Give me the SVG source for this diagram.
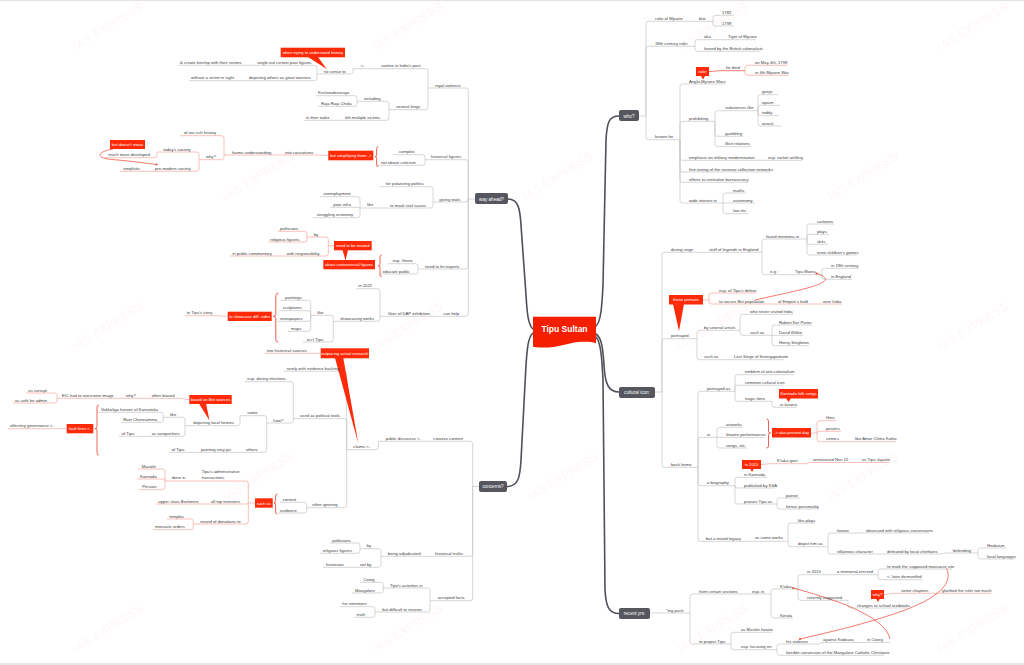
<svg xmlns="http://www.w3.org/2000/svg" width="1024" height="665" viewBox="0 0 1024 665">
<style>
.t{font-family:"Liberation Sans",Arial,sans-serif;font-size:4.2px;fill:#3c3c3c}
.w{font-family:"Liberation Sans",Arial,sans-serif;font-size:4.1px;fill:#fff;text-anchor:middle}
.d{font-family:"Liberation Sans",Arial,sans-serif;font-size:4.6px;fill:#fff;text-anchor:middle}
.wm{font-family:"Liberation Sans",Arial,sans-serif;font-size:12px;font-weight:bold;fill:#e03020;fill-opacity:0.055;text-anchor:middle}
.c{fill:none;stroke:#c4c4c4;stroke-width:0.7}
.p{fill:none;stroke:#f7a69d;stroke-width:0.7}
.r{fill:none;stroke:#f0402e;stroke-width:0.7}
.m{fill:none;stroke:#4f5059;stroke-width:1.6;stroke-linecap:round}
.b{fill:none;stroke:#f03a25;stroke-width:0.8}
.co{fill:#fe2a08}
.dk{fill:#55565e}
.dot{fill:#f0402e}
</style>
<rect x="0" y="0" width="1024" height="665" fill="#fff"/>
<rect x="0" y="0" width="1024" height="1" fill="#e2e2e2"/>
<rect x="0" y="663" width="1024" height="2" fill="#e6e6e6"/>
<g id="watermarks">
<text class="wm" transform="translate(110,30) rotate(-32)">IAS EXPRESS</text>
<text class="wm" transform="translate(410,30) rotate(-32)">IAS EXPRESS</text>
<text class="wm" transform="translate(715,30) rotate(-32)">IAS EXPRESS</text>
<text class="wm" transform="translate(975,30) rotate(-32)">IAS EXPRESS</text>
<text class="wm" transform="translate(260,180) rotate(-32)">IAS EXPRESS</text>
<text class="wm" transform="translate(560,180) rotate(-32)">IAS EXPRESS</text>
<text class="wm" transform="translate(865,180) rotate(-32)">IAS EXPRESS</text>
<text class="wm" transform="translate(110,330) rotate(-32)">IAS EXPRESS</text>
<text class="wm" transform="translate(410,330) rotate(-32)">IAS EXPRESS</text>
<text class="wm" transform="translate(715,330) rotate(-32)">IAS EXPRESS</text>
<text class="wm" transform="translate(975,330) rotate(-32)">IAS EXPRESS</text>
<text class="wm" transform="translate(260,480) rotate(-32)">IAS EXPRESS</text>
<text class="wm" transform="translate(565,480) rotate(-32)">IAS EXPRESS</text>
<text class="wm" transform="translate(865,480) rotate(-32)">IAS EXPRESS</text>
<text class="wm" transform="translate(110,632) rotate(-32)">IAS EXPRESS</text>
<text class="wm" transform="translate(410,632) rotate(-32)">IAS EXPRESS</text>
<text class="wm" transform="translate(715,632) rotate(-32)">IAS EXPRESS</text>
<text class="wm" transform="translate(975,632) rotate(-32)">IAS EXPRESS</text>
</g>
<g id="connectors">
<path class="m" d="M 533,329 C 528,325 527,312 526,295 L 521,225 C 520,208 518,199 508,199"/>
<path class="m" d="M 533,333 C 528,337 527,350 526,365 L 521,460 C 520,478 518,486.5 507,486.5"/>
<path class="m" d="M 596,326 C 601,322 602,305 603,285 L 606,140 C 607,122 609,116 619,116"/>
<path class="m" d="M 596,334 C 602,338 603,350 604,365 C 605,385 609,392 619,392"/>
<path class="m" d="M 596,337 C 601,342 602,360 603,380 L 605,590 C 606,607 609,613.5 619,613.5"/>
<path class="c" d="M 639,116 H 646"/>
<path class="c" d="M 646,116 V 23.8 Q 646,21.3 648.5,21.3 H 697"/>
<path class="c" d="M 697,21.3 H 713"/>
<path class="c" d="M 713,21.3 V 17.8 Q 713,15.3 715.5,15.3 H 734"/>
<path class="c" d="M 713,21.3 V 24 Q 713,26 715,26 H 734"/>
<path class="c" d="M 646,116 V 48.8 Q 646,46.3 648.5,46.3 H 695"/>
<path class="c" d="M 695,46.3 V 42.2 Q 695,39.7 697.5,39.7 H 724"/>
<path class="c" d="M 724,39.7 H 756"/>
<path class="c" d="M 695,46.3 V 48.8 Q 695,51.3 697.5,51.3 H 761"/>
<path class="c" d="M 646,116 V 137.2 Q 646,139.7 648.5,139.7 H 680"/>
<path class="c" d="M 680,139.7 V 86.5 Q 680,84 682.5,84 H 725"/>
<path class="c" d="M 680,139.7 V 123.8 Q 680,121.3 682.5,121.3 H 715"/>
<path class="c" d="M 715,121.3 V 113.2 Q 715,110.7 717.5,110.7 H 758"/>
<path class="c" d="M 758,110.7 V 97.2 Q 758,94.7 760.5,94.7 H 778"/>
<path class="c" d="M 758,110.7 V 107.8 Q 758,105.3 760.5,105.3 H 780"/>
<path class="c" d="M 758,110.7 V 113.2 Q 758,115.7 760.5,115.7 H 779"/>
<path class="c" d="M 758,110.7 V 123.5 Q 758,126 760.5,126 H 781"/>
<path class="c" d="M 715,121.3 V 133.8 Q 715,136.3 717.5,136.3 H 743"/>
<path class="c" d="M 715,121.3 V 144.2 Q 715,146.7 717.5,146.7 H 751"/>
<path class="c" d="M 680,139.7 V 157.8 Q 680,160.3 682.5,160.3 H 764"/>
<path class="c" d="M 764,160.3 H 802"/>
<path class="c" d="M 680,139.7 V 169.5 Q 680,172 682.5,172 H 771"/>
<path class="c" d="M 680,139.7 V 179.8 Q 680,182.3 682.5,182.3 H 748"/>
<path class="c" d="M 680,139.7 V 200.5 Q 680,203 682.5,203 H 723"/>
<path class="c" d="M 723,203 V 195.5 Q 723,193 725.5,193 H 746"/>
<path class="c" d="M 723,203 H 755"/>
<path class="c" d="M 723,203 V 211.2 Q 723,213.7 725.5,213.7 H 748"/>
<path class="r" d="M 709,71.5 C 715,71.5 716,70.7 721,70.7 H 745"/>
<path class="p" d="M 745,70.7 V 67.8 Q 745,65.3 747.5,65.3 H 788"/>
<path class="p" d="M 745,70.7 V 72.8 Q 745,75.3 747.5,75.3 H 789"/>
<path class="c" d="M 655,392 H 662"/>
<path class="c" d="M 662,392 V 254.8 Q 662,252.3 664.5,252.3 H 706"/>
<path class="c" d="M 706,252.3 H 762"/>
<path class="c" d="M 762,252.3 V 241.5 Q 762,239 764.5,239 H 807"/>
<path class="c" d="M 807,239 V 226.5 Q 807,224 809.5,224 H 834"/>
<path class="c" d="M 807,239 V 236.8 Q 807,234.3 809.5,234.3 H 829"/>
<path class="c" d="M 807,239 V 241.8 Q 807,244.3 809.5,244.3 H 828"/>
<path class="c" d="M 807,239 V 252.5 Q 807,255 809.5,255 H 857"/>
<path class="c" d="M 762,252.3 V 272.2 Q 762,274.7 764.5,274.7 H 792"/>
<path class="c" d="M 792,274.7 H 822"/>
<path class="c" d="M 822,274.7 V 270.8 Q 822,268.3 824.5,268.3 H 859"/>
<path class="c" d="M 822,274.7 V 276.8 Q 822,279.3 824.5,279.3 H 852"/>
<path class="p" d="M 703,300 H 709"/>
<path class="p" d="M 709,300 V 295.5 Q 709,293 711.5,293 H 756"/>
<path class="p" d="M 709,300 V 301.5 Q 709,304 711.5,304 H 774"/>
<path class="p" d="M 774,304 H 842"/>
<path class="r" d="M 755,300 C 790,292 830,285 825,278 C 822,275 819,274 816.5,273.5"/>
<circle class="dot" cx="816.5" cy="273.5" r="1"/>
<path class="c" d="M 662,392 V 341.2 Q 662,338.7 664.5,338.7 H 697"/>
<path class="c" d="M 697,338.7 V 332.8 Q 697,330.3 699.5,330.3 H 740"/>
<path class="c" d="M 740,330.3 V 316.8 Q 740,314.3 742.5,314.3 H 793"/>
<path class="c" d="M 740,330.3 V 332.8 Q 740,335.3 742.5,335.3 H 772"/>
<path class="c" d="M 772,335.3 V 327.5 Q 772,325 774.5,325 H 812"/>
<path class="c" d="M 772,335.3 H 803"/>
<path class="c" d="M 772,335.3 V 343.2 Q 772,345.7 774.5,345.7 H 809"/>
<path class="c" d="M 697,338.7 V 357.2 Q 697,359.7 699.5,359.7 H 731"/>
<path class="c" d="M 731,359.7 H 784"/>
<path class="c" d="M 662,392 V 464.8 Q 662,467.3 664.5,467.3 H 698"/>
<path class="c" d="M 698,467.3 V 393.8 Q 698,391.3 700.5,391.3 H 735"/>
<path class="c" d="M 735,391.3 V 377.2 Q 735,374.7 737.5,374.7 H 794"/>
<path class="c" d="M 735,391.3 V 387.8 Q 735,385.3 737.5,385.3 H 783"/>
<path class="c" d="M 735,391.3 V 398.8 Q 735,401.3 737.5,401.3 H 772"/>
<path class="c" d="M 772,401.3 V 404.8 Q 772,407.3 774.5,407.3 H 797"/>
<path class="c" d="M 698,467.3 V 439.8 Q 698,437.3 700.5,437.3 H 717"/>
<path class="c" d="M 717,437.3 V 429.8 Q 717,427.3 719.5,427.3 H 743"/>
<path class="c" d="M 717,437.3 H 765"/>
<path class="c" d="M 717,437.3 V 445.5 Q 717,448 719.5,448 H 747"/>
<path class="p" d="M 811,433 H 817"/>
<path class="p" d="M 817,433 V 423.2 Q 817,420.7 819.5,420.7 H 836"/>
<path class="p" d="M 817,433 Q 817,431.3 819,431.3 H 841"/>
<path class="p" d="M 817,433 V 439.2 Q 817,441.7 819.5,441.7 H 852"/>
<path class="p" d="M 852,441.7 H 896"/>
<path class="p" d="M 761,464.5 C 766,464.5 767,463.7 771,463.7 H 806"/>
<path class="p" d="M 806,463.7 C 808,463.7 808,462.5 810,462.5 H 855"/>
<path class="p" d="M 855,462.5 H 889"/>
<path class="c" d="M 698,467.3 V 483.2 Q 698,485.7 700.5,485.7 H 735"/>
<path class="c" d="M 735,485.7 V 479.8 Q 735,477.3 737.5,477.3 H 767"/>
<path class="c" d="M 735,485.7 Q 735,488 737.3,488 H 775"/>
<path class="c" d="M 735,485.7 V 501.5 Q 735,504 737.5,504 H 777"/>
<path class="c" d="M 777,504 V 500.5 Q 777,498 779.5,498 H 800"/>
<path class="c" d="M 777,504 V 506.5 Q 777,509 779.5,509 H 818"/>
<path class="c" d="M 698,467.3 V 538.8 Q 698,541.3 700.5,541.3 H 752"/>
<path class="c" d="M 752,541.3 H 788"/>
<path class="c" d="M 788,541.3 V 525.5 Q 788,523 790.5,523 H 815"/>
<path class="c" d="M 788,541.3 V 544.2 Q 788,546.7 790.5,546.7 H 828"/>
<path class="c" d="M 828,546.7 V 535.5 Q 828,533 830.5,533 H 858"/>
<path class="c" d="M 858,533 H 929"/>
<path class="c" d="M 828,546.7 V 551.5 Q 828,554 830.5,554 H 882"/>
<path class="c" d="M 882,554 H 940"/>
<path class="c" d="M 940,554 C 943,554 944,553 947,553 H 978"/>
<path class="c" d="M 978,553 V 550.5 Q 978,548 980.5,548 H 1006"/>
<path class="c" d="M 978,553 V 556.5 Q 978,559 980.5,559 H 1015"/>
<path class="c" d="M 650,613 H 690"/>
<path class="c" d="M 690,613 V 596.5 Q 690,594 692.5,594 H 749"/>
<path class="c" d="M 749,594 H 771"/>
<path class="c" d="M 771,594 V 591.5 Q 771,589 773.5,589 H 798"/>
<path class="c" d="M 798,589 V 577.2 Q 798,574.7 800.5,574.7 H 833"/>
<path class="c" d="M 833,574.7 H 878"/>
<path class="c" d="M 878,574.7 V 571.5 Q 878,569 880.5,569 H 952"/>
<path class="c" d="M 878,574.7 V 577.2 Q 878,579.7 880.5,579.7 H 922"/>
<path class="c" d="M 798,589 V 597.8 Q 798,600.3 800.5,600.3 H 848"/>
<path class="c" d="M 848,600.3 V 605.5 Q 848,608 850.5,608 H 907"/>
<path class="p" d="M 884,594.5 C 889,594.5 890,593.3 895,593.3 H 940"/>
<path class="p" d="M 940,593.3 H 991"/>
<path class="c" d="M 771,594 V 615.5 Q 771,618 773.5,618 H 793"/>
<path class="c" d="M 690,613 V 641.5 Q 690,644 692.5,644 H 731"/>
<path class="c" d="M 731,644 V 634.8 Q 731,632.3 733.5,632.3 H 772"/>
<path class="c" d="M 731,644 V 647.2 Q 731,649.7 733.5,649.7 H 777"/>
<path class="c" d="M 777,649.7 V 646.5 Q 777,644 779.5,644 H 818"/>
<path class="c" d="M 818,644 C 820,644 820,642.5 822,642.5 H 858"/>
<path class="c" d="M 858,642.5 H 890"/>
<path class="c" d="M 777,649.7 V 652.8 Q 777,655.3 779.5,655.3 H 884"/>
<path class="r" d="M 793,588 C 830,598 885,615 890,639"/>
<circle class="dot" cx="793" cy="588" r="1"/>
<path class="r" d="M 946.5,568.5 C 952,580 945,595 905,610 C 870,623 830,632 800,639"/>
<circle class="dot" cx="800" cy="639" r="1"/>
<path class="c" d="M 475,199 H 468.3"/>
<path class="c" d="M 468.3,199 V 90.5 Q 468.3,88 465.8,88 H 428"/>
<path class="c" d="M 428,88 V 71.2 Q 428,68.7 425.5,68.7 H 376"/>
<path class="c" d="M 376,68.7 H 353"/>
<path class="c" d="M 353,68.7 V 71.5 Q 353,74 350.5,74 H 317"/>
<path class="c" d="M 317,74 V 67.8 Q 317,65.3 314.5,65.3 H 250"/>
<path class="c" d="M 250,65.3 H 178"/>
<path class="c" d="M 317,74 V 78.2 Q 317,80.7 314.5,80.7 H 246"/>
<path class="c" d="M 246,80.7 H 189"/>
<path class="c" d="M 428,88 V 107.2 Q 428,109.7 425.5,109.7 H 389"/>
<path class="c" d="M 389,109.7 V 103.8 Q 389,101.3 386.5,101.3 H 357"/>
<path class="c" d="M 357,101.3 V 98.2 Q 357,95.7 354.5,95.7 H 316"/>
<path class="c" d="M 357,101.3 V 103.8 Q 357,106.3 354.5,106.3 H 318"/>
<path class="c" d="M 389,109.7 V 117.8 Q 389,120.3 386.5,120.3 H 339"/>
<path class="c" d="M 339,120.3 H 304"/>
<path class="c" d="M 468.3,199 V 162.2 Q 468.3,159.7 465.8,159.7 H 425"/>
<path class="c" d="M 425,159.7 V 157.2 Q 425,154.7 422.5,154.7 H 393"/>
<path class="c" d="M 425,159.7 V 162.8 Q 425,165.3 422.5,165.3 H 377"/>
<path class="p" d="M 328.3,155.5 C 324,155.5 323,155 319,155 H 273"/>
<path class="p" d="M 273,155 H 224"/>
<path class="p" d="M 224,155 V 138.2 Q 224,135.7 221.5,135.7 H 180"/>
<path class="p" d="M 224,155 V 157.2 Q 224,159.7 221.5,159.7 H 199"/>
<path class="p" d="M 199,159.7 V 154.5 Q 199,152 196.5,152 H 157"/>
<path class="p" d="M 157,152 V 155.2 Q 157,157.7 154.5,157.7 H 105"/>
<path class="p" d="M 199,159.7 V 168.8 Q 199,171.3 196.5,171.3 H 151"/>
<path class="p" d="M 151,171.3 H 120"/>
<path class="r" d="M 113,149 C 96,152 96,158 112,159.5 C 130,161 145,163 156.5,164.5"/>
<circle class="dot" cx="156.5" cy="164.5" r="1"/>
<path class="c" d="M 468.3,199 Q 468.3,202 465.3,202 H 433"/>
<path class="c" d="M 433,202 V 189.2 Q 433,186.7 430.5,186.7 H 380"/>
<path class="c" d="M 433,202 V 205.5 Q 433,208 430.5,208 H 378"/>
<path class="c" d="M 378,208 H 360"/>
<path class="c" d="M 360,208 V 199.2 Q 360,196.7 357.5,196.7 H 320"/>
<path class="c" d="M 360,208 L 358,207.3 H 330"/>
<path class="c" d="M 360,208 V 215.2 Q 360,217.7 357.5,217.7 H 313"/>
<path class="c" d="M 468.3,199 V 266.5 Q 468.3,269 465.8,269 H 418"/>
<path class="c" d="M 418,269 V 266.2 Q 418,263.7 415.5,263.7 H 388"/>
<path class="c" d="M 418,269 V 271.5 Q 418,274 415.5,274 H 380"/>
<path class="p" d="M 334,245.7 H 328.3"/>
<path class="p" d="M 328.3,245.7 V 239.5 Q 328.3,237 325.8,237 H 307"/>
<path class="p" d="M 307,237 V 233.8 Q 307,231.3 304.5,231.3 H 278"/>
<path class="p" d="M 307,237 V 239.5 Q 307,242 304.5,242 H 268"/>
<path class="p" d="M 328.3,245.7 V 253.5 Q 328.3,256 325.8,256 H 283"/>
<path class="p" d="M 283,256 H 230"/>
<path class="c" d="M 468.3,199 V 313.8 Q 468.3,316.3 465.8,316.3 H 434"/>
<path class="c" d="M 434,316.3 H 380"/>
<path class="c" d="M 380,316.3 V 291.2 Q 380,288.7 377.5,288.7 H 356"/>
<path class="c" d="M 380,316.3 V 318.8 Q 380,321.3 377.5,321.3 H 333.3"/>
<path class="c" d="M 333.3,321.3 V 317.8 Q 333.3,315.3 330.8,315.3 H 310.7"/>
<path class="c" d="M 310.7,315.3 V 302.8 Q 310.7,300.3 308.2,300.3 H 281"/>
<path class="c" d="M 310.7,315.3 V 313.2 Q 310.7,310.7 308.2,310.7 H 279"/>
<path class="c" d="M 310.7,315.3 V 318.8 Q 310.7,321.3 308.2,321.3 H 277"/>
<path class="c" d="M 310.7,315.3 V 328.8 Q 310.7,331.3 308.2,331.3 H 288"/>
<path class="c" d="M 333.3,321.3 V 339.5 Q 333.3,342 330.8,342 H 303"/>
<path class="p" d="M 227.7,316.3 C 223,316.3 222,315.7 218,315.7 H 185"/>
<path class="c" d="M 479,486.5 H 472.7"/>
<path class="c" d="M 472.7,486.5 V 443.8 Q 472.7,441.3 470.2,441.3 H 412"/>
<path class="c" d="M 412,441.3 H 378.3"/>
<path class="c" d="M 378.3,441.3 V 447.2 Q 378.3,449.7 375.8,449.7 H 346.7"/>
<path class="c" d="M 346.7,449.7 V 373.8 Q 346.7,371.3 344.2,371.3 H 284"/>
<path class="p" d="M 320.7,353.3 H 265"/>
<path class="c" d="M 346.7,449.7 V 421.2 Q 346.7,418.7 344.2,418.7 H 293.3"/>
<path class="c" d="M 293.3,418.7 V 384.2 Q 293.3,381.7 290.8,381.7 H 245"/>
<path class="c" d="M 293.3,418.7 V 420.5 Q 293.3,423 290.8,423 H 266.7"/>
<path class="c" d="M 266.7,423 V 418.2 Q 266.7,415.7 264.2,415.7 H 240"/>
<path class="c" d="M 240,415.7 V 423.2 Q 240,425.7 237.5,425.7 H 185"/>
<path class="c" d="M 185,425.7 V 419.8 Q 185,417.3 182.5,417.3 H 163.3"/>
<path class="c" d="M 163.3,417.3 V 414.8 Q 163.3,412.3 160.8,412.3 H 99"/>
<path class="c" d="M 163.3,417.3 V 419.8 Q 163.3,422.3 160.8,422.3 H 121"/>
<path class="c" d="M 185,425.7 V 433.8 Q 185,436.3 182.5,436.3 H 148"/>
<path class="c" d="M 148,436.3 H 119"/>
<path class="p" d="M 189.3,399.5 C 185,399.5 184,398.3 180,398.3 H 148"/>
<path class="p" d="M 148,398.3 H 118"/>
<path class="p" d="M 118,398.3 H 57"/>
<path class="p" d="M 57,398.3 V 395.5 Q 57,393 54.5,393 H 26"/>
<path class="p" d="M 57,398.3 V 400.5 Q 57,403 54.5,403 H 13"/>
<path class="p" d="M 66.7,428.7 H 8"/>
<path class="c" d="M 266.7,423 V 449.8 Q 266.7,452.3 264.2,452.3 H 238"/>
<path class="c" d="M 238,452.3 H 190"/>
<path class="c" d="M 190,452.3 H 169"/>
<path class="c" d="M 346.7,449.7 V 505.2 Q 346.7,507.7 344.2,507.7 H 306.7"/>
<path class="c" d="M 306.7,507.7 V 504.8 Q 306.7,502.3 304.2,502.3 H 280"/>
<path class="c" d="M 306.7,507.7 V 510.5 Q 306.7,513 304.2,513 H 278"/>
<path class="p" d="M 255,503 H 248.3"/>
<path class="p" d="M 248.3,503 V 483.5 Q 248.3,481 245.8,481 H 197"/>
<path class="p" d="M 197,481 H 165"/>
<path class="p" d="M 165,481 V 471.5 Q 165,469 162.5,469 H 138"/>
<path class="p" d="M 165,481 Q 165,479 163,479 H 137"/>
<path class="p" d="M 165,481 V 487.2 Q 165,489.7 162.5,489.7 H 139"/>
<path class="p" d="M 248.3,503 L 247,504 H 205"/>
<path class="p" d="M 205,504 H 156"/>
<path class="p" d="M 248.3,503 V 521.5 Q 248.3,524 245.8,524 H 193.3"/>
<path class="p" d="M 193.3,524 V 521.5 Q 193.3,519 190.8,519 H 167"/>
<path class="p" d="M 193.3,524 V 527.2 Q 193.3,529.7 190.8,529.7 H 153"/>
<path class="c" d="M 472.7,486.5 V 553.8 Q 472.7,556.3 470.2,556.3 H 425"/>
<path class="c" d="M 425,556.3 H 381"/>
<path class="c" d="M 381,556.3 V 551.2 Q 381,548.7 378.5,548.7 H 360"/>
<path class="c" d="M 360,548.7 V 545.5 Q 360,543 357.5,543 H 330"/>
<path class="c" d="M 360,548.7 V 550.8 Q 360,553.3 357.5,553.3 H 320"/>
<path class="c" d="M 381,556.3 V 564.8 Q 381,567.3 378.5,567.3 H 348"/>
<path class="c" d="M 348,567.3 H 323"/>
<path class="c" d="M 472.7,486.5 V 598.2 Q 472.7,600.7 470.2,600.7 H 430"/>
<path class="c" d="M 430,600.7 V 590.5 Q 430,588 427.5,588 H 383.3"/>
<path class="c" d="M 383.3,588 V 584.8 Q 383.3,582.3 380.8,582.3 H 360"/>
<path class="c" d="M 383.3,588 V 590.5 Q 383.3,593 380.8,593 H 352"/>
<path class="c" d="M 430,600.7 V 609.5 Q 430,612 427.5,612 H 375"/>
<path class="c" d="M 375,612 V 609.2 Q 375,606.7 372.5,606.7 H 340"/>
<path class="c" d="M 375,612 V 614.8 Q 375,617.3 372.5,617.3 H 354"/>
<path class="b" d="M 378.3,146.7 Q 376.6,146.7 376.6,148.7 V 155.2 Q 376.6,156.7 375,156.7 Q 376.6,156.7 376.6,158.2 V 164.7 Q 376.6,166.7 378.3,166.7"/>
<path class="b" d="M 381.7,255 Q 380,255 380,257 V 264.3 Q 380,265.8 378.3,265.8 Q 380,265.8 380,267.3 V 274.7 Q 380,276.7 381.7,276.7"/>
<path class="b" d="M 278.3,293.3 Q 275.8,293.3 275.8,295.8 V 314.3 Q 275.8,316.3 273.3,316.3 Q 275.8,316.3 275.8,318.3 V 339.5 Q 275.8,342 278.3,342"/>
<path class="b" d="M 99,405 Q 97,405 97,407.5 V 426.7 Q 97,428.7 95,428.7 Q 97,428.7 97,430.7 V 452.5 Q 97,455 99,455"/>
<path class="b" d="M 277.3,494 Q 275.6,494 275.6,496 V 501.5 Q 275.6,503 274,503 Q 275.6,503 275.6,504.5 V 512 Q 275.6,514 277.3,514"/>
<path class="b" d="M 766.5,419 Q 768.5,419 768.5,421 V 431.5 Q 768.5,433 770.5,433 Q 768.5,433 768.5,434.5 V 446 Q 768.5,448 766.5,448"/>
</g>
<g id="center">
<path d="M 533,316.7 H 596 V 343.3 C 590,341 580,341.5 573,342.7 C 562,345 552,349.5 533,346.7 Z" fill="#f41e00"/>
<text x="564.5" y="332" font-family="Liberation Sans, Arial, sans-serif" font-size="8.5" font-weight="bold" fill="#fff" text-anchor="middle">Tipu Sultan</text>
</g>
<g id="topic-way-ahead"><rect class="dk" x="475" y="193" width="33" height="11" rx="2"/><text class="d" x="491.5" y="200.6">way ahead?</text></g>
<g id="topic-concerns"><rect class="dk" x="479" y="481" width="28" height="11" rx="2"/><text class="d" x="493" y="488.1">concerns?</text></g>
<g id="topic-who"><rect class="dk" x="619" y="110" width="20" height="11" rx="2"/><text class="d" x="629" y="117.6">who?</text></g>
<g id="topic-cultural"><rect class="dk" x="619" y="387" width="36" height="11" rx="2"/><text class="d" x="637" y="394">cultural icon:</text></g>
<g id="topic-recent"><rect class="dk" x="619" y="608" width="31" height="11" rx="2"/><text class="d" x="634.5" y="615.2">recent yrs:</text></g>
<g id="callouts">
<g id="co-ruler"><rect class="co" x="696" y="67" width="13" height="9"/><polygon class="co" points="701,76 705,76 703,79.5"/><text class="w" x="702.5" y="73">ruler</text></g>
<g id="co-portraits"><polygon class="co" points="673,304 684,304 679,331"/><rect class="co" x="669" y="295" width="34" height="9.5"/><text class="w" x="686" y="301.2">these portraits</text></g>
<g id="co-folk"><polygon class="co" points="786,398 791,398 788.5,402"/><rect class="co" x="779" y="389" width="39" height="9.5"/><text class="w" x="798.5" y="395.2">Kannada folk songs</text></g>
<g id="co-present"><rect class="co" x="772" y="428" width="39" height="9.5"/><text class="w" x="791.5" y="434.2">-&gt; also present day</text></g>
<g id="co-2015"><polygon class="co" points="750,468.5 754,468.5 752,472"/><rect class="co" x="742" y="460" width="19" height="9"/><text class="w" x="751.5" y="466">in 2015</text></g>
<g id="co-why-recent"><polygon class="co" points="876,598.5 880,598.5 878,602"/><rect class="co" x="871" y="590" width="13" height="9"/><text class="w" x="877.5" y="596">why?</text></g>
<g id="co-history"><polygon class="co" points="308,57 318,57 326.7,69"/><rect class="co" x="280.7" y="47.7" width="64.3" height="9.6"/><text class="w" x="312.8" y="54">when trying to understand history</text></g>
<g id="co-simplify"><rect class="co" x="328.3" y="150.7" width="45" height="9.6"/><text class="w" x="350.8" y="157">but simplifying them -&gt;</text></g>
<g id="co-doesnt"><rect class="co" x="110" y="140" width="35" height="9"/><text class="w" x="127.5" y="146">but doesn't mean</text></g>
<g id="co-treated"><polygon class="co" points="342.5,250 348,250 345.5,260.5"/><rect class="co" x="334" y="241" width="37.7" height="9.3"/><text class="w" x="352.8" y="247.1">need to be treated</text></g>
<g id="co-controversial"><rect class="co" x="323.3" y="260" width="51.7" height="9.3"/><text class="w" x="349.1" y="266.1">about controversial figures</text></g>
<g id="co-showcase"><rect class="co" x="227.7" y="311.7" width="44" height="9.3"/><text class="w" x="249.7" y="317.8">to showcase diff. sides</text></g>
<g id="co-outpacing"><polygon class="co" points="335,358 343.3,358 358.3,443.5"/><rect class="co" x="320.7" y="348.3" width="48.3" height="10"/><text class="w" x="344.8" y="354.8">outpacing actual research</text></g>
<g id="co-brit"><polygon class="co" points="199,403.5 206,403.5 209.5,420.5"/><rect class="co" x="189.3" y="395" width="42.4" height="9"/><text class="w" x="210.5" y="401">based on Brit sources</text></g>
<g id="co-fault"><rect class="co" x="66.7" y="424" width="26.6" height="9.3"/><text class="w" x="80" y="430.1">fault lines &lt;-</text></g>
<g id="co-suchas"><rect class="co" x="255" y="498.3" width="17.7" height="9.4"/><text class="w" x="263.8" y="504.5">such as</text></g>
</g>
<g id="nodes-who">
<g id="n-ruler"><text class="t" x="655" y="19.8">ruler of Mysore</text></g>
<g id="n-bw"><text class="t" x="699" y="19.8">b/w</text></g>
<g id="n-1782"><text class="t" x="722" y="13.8">1782</text></g>
<g id="n-1799"><text class="t" x="722" y="24.5">1799</text></g>
<g id="n-c18"><text class="t" x="655" y="44.8">18th century ruler</text></g>
<g id="n-aka"><text class="t" x="704" y="38.2">aka</text></g>
<g id="n-tiger"><text class="t" x="728" y="38.2">Tiger of Mysore</text></g>
<g id="n-feared"><text class="t" x="704" y="49.8">feared by the British colonialists</text></g>
<g id="n-known"><text class="t" x="655" y="138.2">known for</text></g>
<g id="n-amw"><text class="t" x="689" y="82.5">Anglo-Mysore Wars</text></g>
<g id="n-died"><text class="t" x="726" y="69.2">he died</text></g>
<g id="n-may4"><text class="t" x="755" y="63.8">on May 4th, 1799</text></g>
<g id="n-4thwar"><text class="t" x="755" y="73.8">in 4th Mysore War</text></g>
<g id="n-prohib"><text class="t" x="689" y="119.8">prohibiting</text></g>
<g id="n-subs"><text class="t" x="725" y="109.2">substances like</text></g>
<g id="n-ganja"><text class="t" x="762" y="93.2">ganja</text></g>
<g id="n-opium"><text class="t" x="762" y="103.8">opium</text></g>
<g id="n-toddy"><text class="t" x="762" y="114.2">toddy</text></g>
<g id="n-arrack"><text class="t" x="762" y="124.5">arrack</text></g>
<g id="n-gambling"><text class="t" x="725" y="134.8">gambling</text></g>
<g id="n-illicit"><text class="t" x="725" y="145.2">illicit relations</text></g>
<g id="n-emph"><text class="t" x="689" y="158.8">emphasis on military modernization</text></g>
<g id="n-rocket"><text class="t" x="768" y="158.8">esp. rocket artillery</text></g>
<g id="n-fine"><text class="t" x="689" y="170.5">fine-tuning of the revenue collection networks</text></g>
<g id="n-eff"><text class="t" x="689" y="180.8">efforts to centralize bureaucracy</text></g>
<g id="n-wide"><text class="t" x="689" y="201.5">wide interest in</text></g>
<g id="n-maths"><text class="t" x="733" y="191.5">maths</text></g>
<g id="n-astro"><text class="t" x="733" y="201.8">astronomy</text></g>
<g id="n-law"><text class="t" x="733" y="212.2">law etc.</text></g>
</g>
<g id="nodes-cultural">
<g id="n-reign"><text class="t" x="671" y="250.8">during reign</text></g>
<g id="n-stuff"><text class="t" x="709" y="250.8">stuff of legends in England</text></g>
<g id="n-found"><text class="t" x="766" y="237.5">found mentions in</text></g>
<g id="n-cartoons"><text class="t" x="817" y="222.5">cartoons</text></g>
<g id="n-plays"><text class="t" x="817" y="232.8">plays</text></g>
<g id="n-skits"><text class="t" x="817" y="242.8">skits</text></g>
<g id="n-games"><text class="t" x="817" y="253.5">even children's games</text></g>
<g id="n-eg"><text class="t" x="770" y="273.2">e.g.:</text></g>
<g id="n-mania"><text class="t" x="795" y="272.5">Tipu Mania</text></g>
<g id="n-c19"><text class="t" x="831" y="266.8">in 19th century</text></g>
<g id="n-eng"><text class="t" x="831" y="277.8">in England</text></g>
<g id="n-defeat"><text class="t" x="719" y="291.5">esp. of Tipu's defeat</text></g>
<g id="n-secure"><text class="t" x="719" y="302.5">to secure Brit population</text></g>
<g id="n-hold"><text class="t" x="778" y="302.5">of Empire's hold</text></g>
<g id="n-india"><text class="t" x="823" y="302.5">over India</text></g>
<g id="n-portrayed"><text class="t" x="671" y="337.2">portrayed</text></g>
<g id="n-artists"><text class="t" x="704" y="328.8">by several artists</text></g>
<g id="n-never"><text class="t" x="750" y="312.8">who never visited India</text></g>
<g id="n-suchas1"><text class="t" x="750" y="333.8">such as</text></g>
<g id="n-porter"><text class="t" x="779" y="323.5">Robert Ker Porter</text></g>
<g id="n-wilkie"><text class="t" x="779" y="333.8">David Wilkie</text></g>
<g id="n-singleton"><text class="t" x="779" y="344.2">Henry Singleton</text></g>
<g id="n-suchas2"><text class="t" x="704" y="358.2">such as</text></g>
<g id="n-siege"><text class="t" x="734" y="358.2">Last Siege of Seringapatnam</text></g>
<g id="n-back"><text class="t" x="671" y="465.8">back home</text></g>
<g id="n-pas"><text class="t" x="707" y="389.8">portrayed as</text></g>
<g id="n-emblem"><text class="t" x="745" y="373.2">emblem of anti-colonialism</text></g>
<g id="n-common"><text class="t" x="745" y="383.8">common cultural icon</text></g>
<g id="n-tragic"><text class="t" x="745" y="399.8">tragic hero</text></g>
<g id="n-lavanis"><text class="t" x="780" y="405.8">in lavanis</text></g>
<g id="n-in"><text class="t" x="707" y="435.8">in</text></g>
<g id="n-artworks"><text class="t" x="726" y="425.8">artworks</text></g>
<g id="n-theatre"><text class="t" x="726" y="435.8">theatre performances</text></g>
<g id="n-songs"><text class="t" x="726" y="446.5">songs, etc.</text></g>
<g id="n-films"><text class="t" x="826" y="419.2">films</text></g>
<g id="n-posters"><text class="t" x="826" y="429.8">posters</text></g>
<g id="n-comics"><text class="t" x="826" y="440.2">comics</text></g>
<g id="n-amar"><text class="t" x="855" y="440.2">like Amar Chitra Katha</text></g>
<g id="n-ktgovt"><text class="t" x="777" y="462.2">K'taka govt</text></g>
<g id="n-nov"><text class="t" x="813" y="460.8">announced Nov 10</text></g>
<g id="n-jayanti"><text class="t" x="862" y="460.8">as Tipu Jayanti</text></g>
<g id="n-bio"><text class="t" x="707" y="484.2">a biography</text></g>
<g id="n-kannada"><text class="t" x="744" y="475.8">in Kannada</text></g>
<g id="n-ksa"><text class="t" x="744" y="486.5">published by KSA</text></g>
<g id="n-praises"><text class="t" x="744" y="502.5">praises Tipu as</text></g>
<g id="n-patriot"><text class="t" x="786" y="496.5">patriot</text></g>
<g id="n-heroic"><text class="t" x="786" y="507.5">heroic personality</text></g>
<g id="n-mixed"><text class="t" x="706" y="539.8">but a mixed legacy</text></g>
<g id="n-someworks"><text class="t" x="755" y="539.2">as some works</text></g>
<g id="n-likeplays"><text class="t" x="798" y="521.5">like plays</text></g>
<g id="n-depict"><text class="t" x="798" y="545.2">depict him as</text></g>
<g id="n-fanatic"><text class="t" x="837" y="531.5">fanatic</text></g>
<g id="n-obsessed"><text class="t" x="866" y="531.5">obsessed with religious conversions</text></g>
<g id="n-villain"><text class="t" x="837" y="552.5">villainous character</text></g>
<g id="n-defeated"><text class="t" x="887" y="552.5">defeated by local chieftains</text></g>
<g id="n-defending"><text class="t" x="952" y="551.5">'defending'</text></g>
<g id="n-hindu"><text class="t" x="987" y="546.5">Hinduism</text></g>
<g id="n-locallang"><text class="t" x="987" y="557.5">local languages</text></g>
</g>
<g id="nodes-recent">
<g id="n-push"><text class="t" x="666" y="611.5">*ing push</text></g>
<g id="n-sections"><text class="t" x="699" y="592.5">from certain sections</text></g>
<g id="n-espin"><text class="t" x="752" y="592.5">esp. in</text></g>
<g id="n-ktaka"><text class="t" x="780" y="587.5">K'taka</text></g>
<g id="n-in2015b"><text class="t" x="807" y="573.2">in 2015</text></g>
<g id="n-memorial"><text class="t" x="837" y="572.5">a memorial erected</text></g>
<g id="n-massacre"><text class="t" x="887" y="567.5">to mark the supposed massacre site</text></g>
<g id="n-dismantled"><text class="t" x="887" y="578.2">&lt;- later dismantled</text></g>
<g id="n-recently"><text class="t" x="807" y="598.8">recently suggested</text></g>
<g id="n-textbooks"><text class="t" x="857" y="606.5">changes to school textbooks</text></g>
<g id="n-chapters"><text class="t" x="901" y="591.8">some chapters</text></g>
<g id="n-glorified"><text class="t" x="942" y="591.8">glorified the ruler too much</text></g>
<g id="n-kerala"><text class="t" x="780" y="616.5">Kerala</text></g>
<g id="n-project"><text class="t" x="699" y="642.5">to project Tipu</text></g>
<g id="n-muslim"><text class="t" x="741" y="630.8">as Muslim fanatic</text></g>
<g id="n-focusing"><text class="t" x="741" y="648.2">esp. focusing on</text></g>
<g id="n-violence"><text class="t" x="786" y="642.5">his violence</text></g>
<g id="n-kodavas"><text class="t" x="823" y="640.8">against Kodavas</text></g>
<g id="n-coorg"><text class="t" x="867" y="640.8">in Coorg</text></g>
<g id="n-forcible"><text class="t" x="786" y="653.8">forcible conversion of the Mangalore Catholic Christians</text></g>
</g>
<g id="nodes-way-ahead">
<g id="n-royal"><text class="t" x="435" y="86.5">royal violence</text></g>
<g id="n-routine"><text class="t" x="381" y="67.2">routine in India's past</text></g>
<g id="n-arrow1"><text class="t" x="360.7" y="67.2">&lt;-</text></g>
<g id="n-nosense"><text class="t" x="324" y="72.5">no sense to</text></g>
<g id="n-single"><text class="t" x="257" y="63.8">single out certain past figures</text></g>
<g id="n-kinship"><text class="t" x="180" y="63.8">&amp; create kinship with their victims</text></g>
<g id="n-depicting"><text class="t" x="249" y="79.2">depicting others as great warriors</text></g>
<g id="n-without"><text class="t" x="191" y="79.2">without a victim in sight</text></g>
<g id="n-kings"><text class="t" x="396" y="108.2">several kings</text></g>
<g id="n-including"><text class="t" x="364" y="99.8">including</text></g>
<g id="n-krishna"><text class="t" x="318" y="94.2">Krishnadevaraya</text></g>
<g id="n-raja"><text class="t" x="321" y="104.8">Raja Raja Chola</text></g>
<g id="n-leftmult"><text class="t" x="345" y="118.8">left multiple victims</text></g>
<g id="n-wake"><text class="t" x="306" y="118.8">in their wake</text></g>
<g id="n-histfig"><text class="t" x="431" y="158.2">historical figures</text></g>
<g id="n-complex"><text class="t" x="399" y="153.2">complex</text></g>
<g id="n-notabove"><text class="t" x="381" y="163.8">not above criticism</text></g>
<g id="n-caric"><text class="t" x="285" y="153.5">into caricatures</text></g>
<g id="n-harms"><text class="t" x="232" y="153.5">harms understanding</text></g>
<g id="n-rich"><text class="t" x="184" y="134.2">of our rich history</text></g>
<g id="n-why1"><text class="t" x="206" y="158.2">why?</text></g>
<g id="n-today"><text class="t" x="163.3" y="150.5">today's society</text></g>
<g id="n-muchmore"><text class="t" x="108.3" y="156.2">much more developed</text></g>
<g id="n-premodern"><text class="t" x="155" y="169.8">pre-modern society</text></g>
<g id="n-simplistic"><text class="t" x="123" y="169.8">simplistic</text></g>
<g id="n-tools"><text class="t" x="439.3" y="200.5">giving tools</text></g>
<g id="n-polar"><text class="t" x="386" y="185.2">for polarizing politics</text></g>
<g id="n-mask"><text class="t" x="390" y="206.5">to mask real issues</text></g>
<g id="n-like1"><text class="t" x="367" y="206">like</text></g>
<g id="n-unemp"><text class="t" x="323.3" y="195.2">unemployment</text></g>
<g id="n-infra"><text class="t" x="333.3" y="205.8">poor infra</text></g>
<g id="n-econ"><text class="t" x="316.7" y="216.2">struggling economy</text></g>
<g id="n-experts"><text class="t" x="425" y="267.5">need to let experts</text></g>
<g id="n-govts"><text class="t" x="392.7" y="262.2">esp. Govts</text></g>
<g id="n-educate"><text class="t" x="382.7" y="272.5">educate public</text></g>
<g id="n-by1"><text class="t" x="314" y="235.5">by</text></g>
<g id="n-politicians1"><text class="t" x="280" y="229.8">politicians</text></g>
<g id="n-religious1"><text class="t" x="270" y="240.5">religious figures</text></g>
<g id="n-resp"><text class="t" x="286.7" y="254.5">with responsibility</text></g>
<g id="n-commentary"><text class="t" x="232.3" y="254.5">in public commentary</text></g>
<g id="n-canhelp"><text class="t" x="443.3" y="314.8">can help</text></g>
<g id="n-dap"><text class="t" x="388.3" y="314.8">likes of DAP exhibition</text></g>
<g id="n-in2022"><text class="t" x="358.3" y="287.2">in 2022</text></g>
<g id="n-showcasing"><text class="t" x="340" y="319.8">showcasing works</text></g>
<g id="n-like2"><text class="t" x="317.3" y="313.8">like</text></g>
<g id="n-paintings"><text class="t" x="285" y="298.8">paintings</text></g>
<g id="n-sculptures"><text class="t" x="282.7" y="309.2">sculptures</text></g>
<g id="n-newspapers"><text class="t" x="280" y="319.8">newspapers</text></g>
<g id="n-maps"><text class="t" x="291" y="329.8">maps</text></g>
<g id="n-wrt"><text class="t" x="306.7" y="340.5">w.r.t Tipu</text></g>
<g id="n-story"><text class="t" x="186.7" y="314.2">to Tipu's story</text></g>
</g>
<g id="nodes-concerns">
<g id="n-creative"><text class="t" x="433.3" y="439.8">creative content</text></g>
<g id="n-public"><text class="t" x="385.7" y="439.8">public discourse &lt;-</text></g>
<g id="n-claims"><text class="t" x="353.3" y="448.2">claims &lt;-</text></g>
<g id="n-rarely"><text class="t" x="286.7" y="369.8">rarely with evidence backing</text></g>
<g id="n-sources"><text class="t" x="266.7" y="351.5">into historical sources</text></g>
<g id="n-political"><text class="t" x="300" y="417.2">used as political tools</text></g>
<g id="n-elections"><text class="t" x="247.3" y="380.2">esp. during elections</text></g>
<g id="n-how"><text class="t" x="273.3" y="421.5">how?</text></g>
<g id="n-some1"><text class="t" x="247.3" y="414.2">some</text></g>
<g id="n-localheroes"><text class="t" x="193.3" y="424.2">depicting local heroes</text></g>
<g id="n-like3"><text class="t" x="170" y="415.8">like</text></g>
<g id="n-vokkaliga"><text class="t" x="101" y="410.8">Vokkaliga heroes of Karnataka</text></g>
<g id="n-rani"><text class="t" x="123.3" y="420.8">Rani Chennamma</text></g>
<g id="n-vanq"><text class="t" x="151.7" y="434.8">as vanquishers</text></g>
<g id="n-oftipu1"><text class="t" x="121.7" y="434.8">of Tipu</text></g>
<g id="n-biased"><text class="t" x="151.7" y="396.8">often biased</text></g>
<g id="n-why2"><text class="t" x="126" y="396.8">why?</text></g>
<g id="n-eic"><text class="t" x="61.7" y="396.8">EIC had to overcome image</text></g>
<g id="n-corrupt"><text class="t" x="28.3" y="391.5">as corrupt</text></g>
<g id="n-unfit"><text class="t" x="15" y="401.5">as unfit for admin</text></g>
<g id="n-governance"><text class="t" x="10" y="427.2">affecting governance &lt;-</text></g>
<g id="n-others"><text class="t" x="246" y="450.8">others</text></g>
<g id="n-rosy"><text class="t" x="201" y="450.8">painting rosy pic</text></g>
<g id="n-oftipu2"><text class="t" x="171.7" y="450.8">of Tipu</text></g>
<g id="n-ignoring"><text class="t" x="312.3" y="506.2">often ignoring</text></g>
<g id="n-context"><text class="t" x="282.7" y="500.8">context</text></g>
<g id="n-evidence"><text class="t" x="280" y="511.5">evidence</text></g>
<g id="n-admin"><text class="t" x="201.7" y="473.2">Tipu's administrative<tspan x="201.7" dy="5.6">transactions</tspan></text></g>
<g id="n-donein"><text class="t" x="171.7" y="479.2">done in</text></g>
<g id="n-marathi"><text class="t" x="141.7" y="467.5">Marathi</text></g>
<g id="n-kannada2"><text class="t" x="140" y="477.5">Kannada</text></g>
<g id="n-persian"><text class="t" x="142.3" y="488.2">Persian</text></g>
<g id="n-ministers"><text class="t" x="211" y="502.5">all top ministers</text></g>
<g id="n-brahmins"><text class="t" x="158.3" y="502.5">upper class Brahmins</text></g>
<g id="n-donations"><text class="t" x="200" y="522.5">record of donations to</text></g>
<g id="n-temples"><text class="t" x="169.3" y="517.5">temples</text></g>
<g id="n-monastic"><text class="t" x="155" y="528.2">monastic orders</text></g>
<g id="n-truths"><text class="t" x="435" y="554.8">historical truths</text></g>
<g id="n-adjud"><text class="t" x="387.7" y="554.8">being adjudicated</text></g>
<g id="n-by2"><text class="t" x="366.7" y="547.2">by</text></g>
<g id="n-politicians2"><text class="t" x="332.3" y="541.5">politicians</text></g>
<g id="n-religious2"><text class="t" x="322.7" y="551.8">religious figures</text></g>
<g id="n-notby"><text class="t" x="360" y="565.8">not by</text></g>
<g id="n-historians"><text class="t" x="326" y="565.8">historians</text></g>
<g id="n-facts"><text class="t" x="437.7" y="599.2">accepted facts</text></g>
<g id="n-activities"><text class="t" x="390" y="586.5">Tipu's activities in</text></g>
<g id="n-coorg2"><text class="t" x="363.3" y="580.8">Coorg</text></g>
<g id="n-mangalore"><text class="t" x="355" y="591.5">Mangalore</text></g>
<g id="n-difficult"><text class="t" x="382.3" y="610.5">but difficult to recover</text></g>
<g id="n-intentions"><text class="t" x="342.3" y="605.2">his intentions</text></g>
<g id="n-truth"><text class="t" x="356.7" y="615.8">truth</text></g>
</g>
</svg>
